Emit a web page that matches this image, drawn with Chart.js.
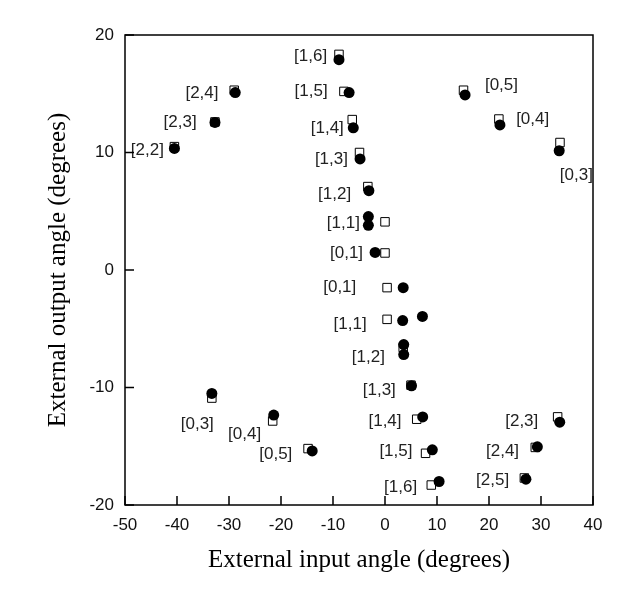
<!DOCTYPE html>
<html>
<head>
<meta charset="utf-8">
<script src="https://cdn.jsdelivr.net/npm/chart.js@4.4.1/dist/chart.umd.min.js"></script>
<style>
  html, body { margin: 0; padding: 0; background: #fff; }
  canvas { display: block; }
</style>
</head>
<body>
<canvas id="chart" width="641" height="593"></canvas>
<script>
// open squares
const squareX = [-8.85, -7.9, -6.3, -4.9, -3.3, 0.0, 0.0, -29.0, -32.7, -40.5, 15.1, 21.9, 33.65,
  0.4, 0.4, 3.5, 5.0, 6.1, 7.8, 8.9, 33.2, 28.9, 26.8, -33.3, -21.6, -14.8]
const squareY = [18.35, 15.2, 12.8, 10.0, 7.1, 4.1, 1.45, 15.3, 12.6, 10.5, 15.3, 12.85, 10.85,
  -1.5, -4.2, -6.6, -9.8, -12.7, -15.6, -18.3, -12.5, -15.1, -17.7, -10.9, -12.85, -15.2]

// filled circles
const circleX = [-8.85, -6.9, -6.1, -4.8, -3.1, -3.2, -3.2, -1.9, -28.8, -32.7, -40.5, 15.4, 22.1, 33.5,
  3.5, 3.4, 7.2, 3.6, 3.6, 5.1, 7.25, 9.1, 10.4, 33.6, 29.3, 27.1, -33.3, -21.4, -14.0]
const circleY = [17.9, 15.1, 12.1, 9.45, 6.75, 4.55, 3.8, 1.5, 15.1, 12.56, 10.35, 14.9, 12.35, 10.15,
  -1.5, -4.3, -3.95, -6.35, -7.2, -9.85, -12.5, -15.3, -18.0, -12.95, -15.05, -17.8, -10.5, -12.35, -15.4]

// point labels (centre of text, data units)
const labelText = ["[1,6]", "[2,4]", "[2,3]", "[2,2]", "[1,5]", "[0,5]", "[1,4]", "[0,4]", "[0,3]",
  "[1,3]", "[1,2]", "[1,1]", "[0,1]",
  "[0,1]", "[1,1]", "[1,2]", "[1,3]", "[1,4]", "[1,5]", "[1,6]", "[2,3]", "[2,4]", "[2,5]",
  "[0,3]", "[0,4]", "[0,5]"]
const labelX = [-14.3, -35.2, -39.4, -45.7, -14.2, 22.4, -11.1, 28.4, 36.8,
  -10.3, -9.7, -8.0, -7.4,
  -8.7, -6.7, -3.2, -1.1, 0.0, 2.1, 3.0, 26.3, 22.6, 20.7,
  -36.1, -27.0, -21.0]
const labelY = [18.15, 15.0, 12.6, 10.2, 15.2, 15.7, 12.05, 12.85, 8.1,
  9.45, 6.4, 3.97, 1.4,
  -1.5, -4.6, -7.4, -10.2, -12.85, -15.45, -18.5, -12.9, -15.4, -17.9,
  -13.1, -14.0, -15.7]

const xTicks = [-50, -40, -30, -20, -10, 0, 10, 20, 30, 40]
const yTicks = [-20, -10, 0, 10, 20]

const toPoints = (xs, ys) => xs.map((x, i) => ({ x: x, y: ys[i] }))

// frame + inward tick marks
const framePlugin = {
  id: "frame",
  afterDraw(chart) {
    const { ctx, chartArea: a, scales: { x, y } } = chart
    ctx.save()
    ctx.strokeStyle = "#000"
    ctx.lineWidth = 1.5
    ctx.strokeRect(a.left, a.top, a.right - a.left, a.bottom - a.top)
    ctx.beginPath()
    xTicks.forEach(v => {
      const px = x.getPixelForValue(v)
      ctx.moveTo(px, a.bottom)
      ctx.lineTo(px, a.bottom - 9)
    })
    yTicks.forEach(v => {
      const py = y.getPixelForValue(v)
      ctx.moveTo(a.left, py)
      ctx.lineTo(a.left + 9, py)
    })
    ctx.stroke()
    ctx.restore()
  }
}

const labelPlugin = {
  id: "pointLabels",
  afterDatasetsDraw(chart) {
    const { ctx, scales: { x, y } } = chart
    ctx.save()
    ctx.font = "17px 'Liberation Sans', Arial, sans-serif"
    ctx.fillStyle = "#222"
    ctx.textAlign = "center"
    ctx.textBaseline = "middle"
    labelText.forEach((t, i) => {
      ctx.fillText(t, x.getPixelForValue(labelX[i]), y.getPixelForValue(labelY[i]))
    })
    ctx.restore()
  }
}

new Chart(document.getElementById("chart"), {
  type: "scatter",
  data: {
    datasets: [
      {
        label: "circles",
        data: toPoints(circleX, circleY),
        pointStyle: "circle",
        pointRadius: 5.5,
        backgroundColor: "#000",
        borderColor: "#000",
        borderWidth: 0,
        order: 0,
      },
      {
        label: "squares",
        data: toPoints(squareX, squareY),
        pointStyle: "rect",
        pointRadius: 6,
        backgroundColor: "#fff",
        borderColor: "#000",
        borderWidth: 1,
        order: 1,
      },
    ],
  },
  options: {
    responsive: false,
    animation: false,
    layout: { padding: { top: 35, right: 48, left: 0, bottom: 0 } },
    plugins: {
      legend: { display: false },
      tooltip: { enabled: false },
    },
    scales: {
      x: {
        type: "linear",
        min: -50,
        max: 40,
        afterFit(scale) { scale.height = 88 },
        afterBuildTicks(scale) { scale.ticks = xTicks.map(v => ({ value: v })) },
        grid: { display: false, drawTicks: false },
        border: { display: false },
        ticks: {
          padding: 10,
          color: "#111",
          font: { family: "'Liberation Sans', Arial, sans-serif", size: 17 },
        },
        title: {
          display: true,
          text: "External input angle (degrees)",
          color: "#000",
          font: { family: "'Liberation Serif', 'Times New Roman', serif", size: 25, lineHeight: 1 },
          padding: { top: 0, bottom: 20 },
        },
      },
      y: {
        type: "linear",
        min: -20,
        max: 20,
        afterFit(scale) { scale.width = 125 },
        afterBuildTicks(scale) { scale.ticks = yTicks.map(v => ({ value: v })) },
        grid: { display: false, drawTicks: false },
        border: { display: false },
        ticks: {
          padding: 11,
          color: "#111",
          font: { family: "'Liberation Sans', Arial, sans-serif", size: 17 },
        },
        title: {
          display: true,
          text: "External output angle (degrees)",
          color: "#000",
          font: { family: "'Liberation Serif', 'Times New Roman', serif", size: 25, lineHeight: 1 },
          padding: { top: 46, bottom: 0 },
        },
      },
    },
  },
  plugins: [framePlugin, labelPlugin],
})
</script>
</body>
</html>
